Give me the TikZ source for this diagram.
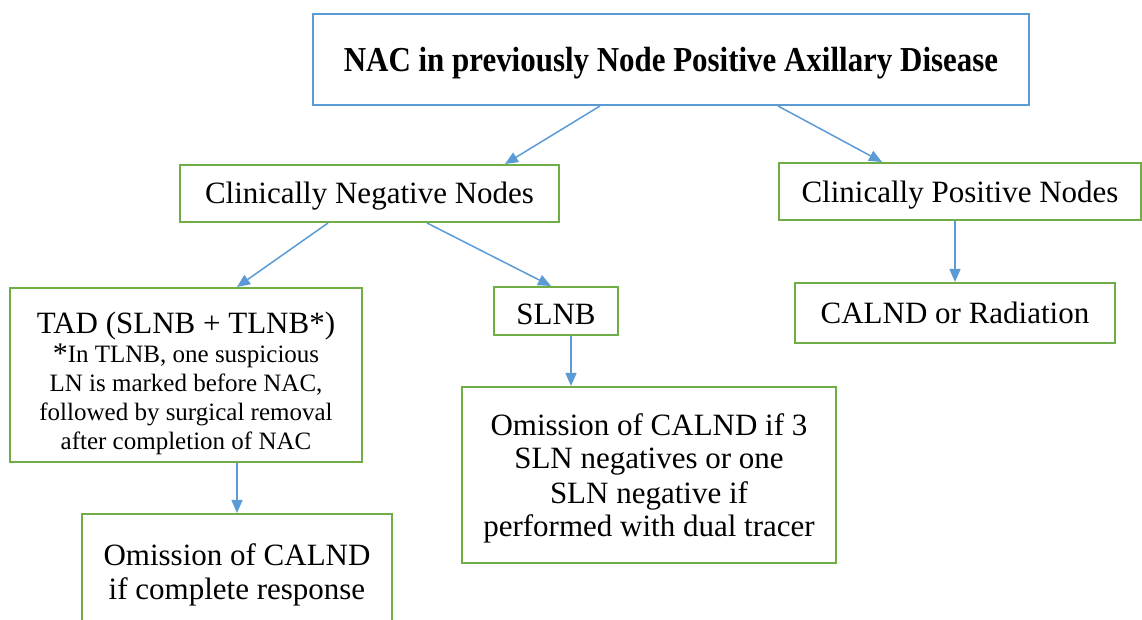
\documentclass[tikz,border=0pt]{standalone}
\usepackage{fontspec}
\setmainfont{Liberation Serif}
\usetikzlibrary{arrows.meta}
\definecolor{boxblue}{HTML}{5B9BD5}
\definecolor{boxgreen}{HTML}{70AD47}
\definecolor{arrowblue}{HTML}{5B9BD5}
\newcommand{\smalltxt}{\fontsize{12.5}{14.5}\selectfont}

\begin{document}
\begin{tikzpicture}[x=0.5pt, y=-0.5pt,
          every node/.style = {shape=rectangle, draw=boxgreen, line width=1pt, align=center, inner sep=0pt,
                               font=\fontsize{15.5}{17}\selectfont},
          rootbox/.style={draw=boxblue, font=\fontsize{17.5}{19}\selectfont\bfseries, text height=12.5pt, text depth=0pt},
          oneline/.style={text height=10.5pt, text depth=0pt},
          arr/.style={draw=arrowblue, line width=0.75pt, -{Triangle[width=5.5pt,length=6.5pt]}}]
          \useasboundingbox (0,0) rectangle (1142,620);
          \clip (0,0) rectangle (1142,620);
          % Boxes, placed at pixel positions (x to the right, y downwards)
          \node(nac)[rootbox, minimum width=358pt, minimum height=45.5pt] at (671,59.5) {\scalebox{0.884}[1]{NAC in previously Node Positive Axillary Disease}};
          \node(neg)[oneline, minimum width=189.5pt, minimum height=28.5pt] at (369.5,193.5) {Clinically Negative Nodes};
          \node(pos)[oneline, text height=11pt, minimum width=181pt, minimum height=28.5pt] at (960,191.5) {Clinically Positive Nodes};
          % text blocks: depth 0, so the height sets where the last line sits
          \node(tad)[text height=75pt, text depth=0pt, minimum width=176pt, minimum height=87pt] at (186,375) {TAD (SLNB + TLNB*)\\[-2pt]
            {\smalltxt{\fontsize{15}{15}\selectfont*}In TLNB, one suspicious}\\[-2.5pt]
            {\smalltxt LN is marked before NAC,}\\[-2.5pt]
            {\smalltxt followed by surgical removal}\\[-2.5pt]
            {\smalltxt after completion of NAC}};
          \node(slnb)[oneline, text height=14pt, minimum width=62pt, minimum height=24pt] at (556,311) {SLNB};
          \node(calnd)[oneline, minimum width=160pt, minimum height=30pt] at (955,313) {CALND or Radiation};
          \node(omitsln)[text height=62pt, text depth=0pt, minimum width=187pt, minimum height=88pt] at (649,475) {Omission of CALND if 3\\ SLN negatives or one\\ SLN negative if\\ performed with dual tracer};
          \node(omitcr)[text height=27pt, text depth=0pt, minimum width=155pt, minimum height=58pt] at (237,572) {Omission of CALND\\ if complete response};
          % Arrows between the boxes
          \draw[arr] ([xshift=-35.5pt]nac.south) -- ([xshift=67.75pt]neg.north);
          \draw[arr] ([xshift=53.5pt]nac.south) -- ([xshift=-39pt]pos.north);
          \draw[arr] ([xshift=-20.75pt]neg.south) -- ([xshift=25.5pt]tad.north);
          \draw[arr] ([xshift=28.75pt]neg.south) -- ([xshift=-2.5pt]slnb.north);
          \draw[arr] ([xshift=7.5pt]slnb.south) -- ([xshift=-39pt]omitsln.north);
          \draw[arr] ([xshift=25.5pt]tad.south) -- (omitcr.north);
          \draw[arr] ([xshift=-2.5pt]pos.south) -- (calnd.north);
        \end{tikzpicture}
\end{document}
